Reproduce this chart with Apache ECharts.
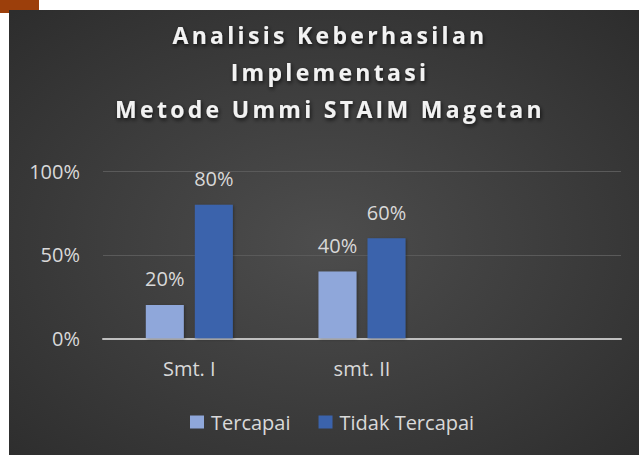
<!DOCTYPE html>
<html>
<head>
<meta charset="utf-8">
<script src="https://cdn.jsdelivr.net/npm/echarts@6/dist/echarts.min.js"></script>
<style>
  html, body { margin: 0; padding: 0; background: #ffffff; width: 639px; height: 455px; overflow: hidden; }
  #corner { position: absolute; left: 0; top: 0; width: 39px; height: 13px; background: #9c3f0b; }
  #main { position: absolute; left: 9px; top: 10px; width: 630px; height: 445px; }
  #main text[style*="bold"] { letter-spacing: 3.3px; }
</style>
</head>
<body>
<div id="corner"></div>
<div id="main"></div>
<script>
const titleText = 'Analisis Keberhasilan\nImplementasi\nMetode Ummi STAIM Magetan';
const categories = ['Smt. I', 'smt. II', ''];
const seriesNames = ['Tercapai', 'Tidak Tercapai'];
const tercapai = [20, 40, null];
const tidakTercapai = [80, 60, null];
const yTicks = { min: 0, max: 100, interval: 50 };

const chart = echarts.init(document.getElementById('main'), null, { renderer: 'svg' });
const font = 'Open Sans';
const labelColor = '#d9d9d9';

chart.setOption({
  backgroundColor: {
    type: 'radial', x: 0.5, y: 0.52, r: 0.87,
    colorStops: [
      { offset: 0, color: '#4d4d4d' },
      { offset: 1, color: '#262626' }
    ]
  },
  animation: false,
  title: {
    text: titleText,
    left: 321,
    top: 6,
    padding: 0,
    textAlign: 'center',
    textStyle: {
      fontFamily: font,
      fontSize: 23,
      fontWeight: 'bold',
      lineHeight: 37,
      color: '#f2f2f2',
      textShadowColor: 'rgba(0,0,0,0.75)',
      textShadowBlur: 4,
      textShadowOffsetX: 1,
      textShadowOffsetY: 2
    }
  },
  legend: {
    data: seriesNames,
    left: 181,
    top: 402,
    padding: 0,
    itemWidth: 14,
    itemHeight: 13,
    itemGap: 28,
    icon: 'rect',
    textStyle: { color: labelColor, fontFamily: font, fontSize: 20, padding: [0, 0, 0, 2] }
  },
  grid: { left: 94, right: 18, top: 161.5, bottom: 116.7, containLabel: false },
  xAxis: {
    type: 'category',
    data: categories,
    axisLine: { show: true, lineStyle: { color: '#bfbfbf', width: 2 } },
    axisTick: { show: false },
    axisLabel: { color: labelColor, fontFamily: font, fontSize: 20, margin: 20 },
    splitLine: { show: false }
  },
  yAxis: {
    type: 'value',
    min: yTicks.min,
    max: yTicks.max,
    interval: yTicks.interval,
    axisLine: { show: false },
    axisTick: { show: false },
    axisLabel: { color: labelColor, fontFamily: font, fontSize: 20, margin: 23, formatter: '{value}%' },
    splitLine: { lineStyle: { color: '#5a5a5a', width: 1 } }
  },
  series: [
    {
      name: seriesNames[0],
      type: 'bar',
      data: tercapai,
      barWidth: 38,
      barGap: '29%',
      itemStyle: { color: '#8fa7da', shadowColor: 'rgba(0,0,0,0.35)', shadowBlur: 3, shadowOffsetX: 1, shadowOffsetY: 1 },
      label: { show: true, position: 'top', distance: 16, color: labelColor, fontFamily: font, fontSize: 20, formatter: '{c}%' }
    },
    {
      name: seriesNames[1],
      type: 'bar',
      data: tidakTercapai,
      barWidth: 38,
      itemStyle: { color: '#3b63ac', shadowColor: 'rgba(0,0,0,0.35)', shadowBlur: 3, shadowOffsetX: 1, shadowOffsetY: 1 },
      label: { show: true, position: 'top', distance: 16, color: labelColor, fontFamily: font, fontSize: 20, formatter: '{c}%' }
    }
  ]
});
</script>
</body>
</html>
